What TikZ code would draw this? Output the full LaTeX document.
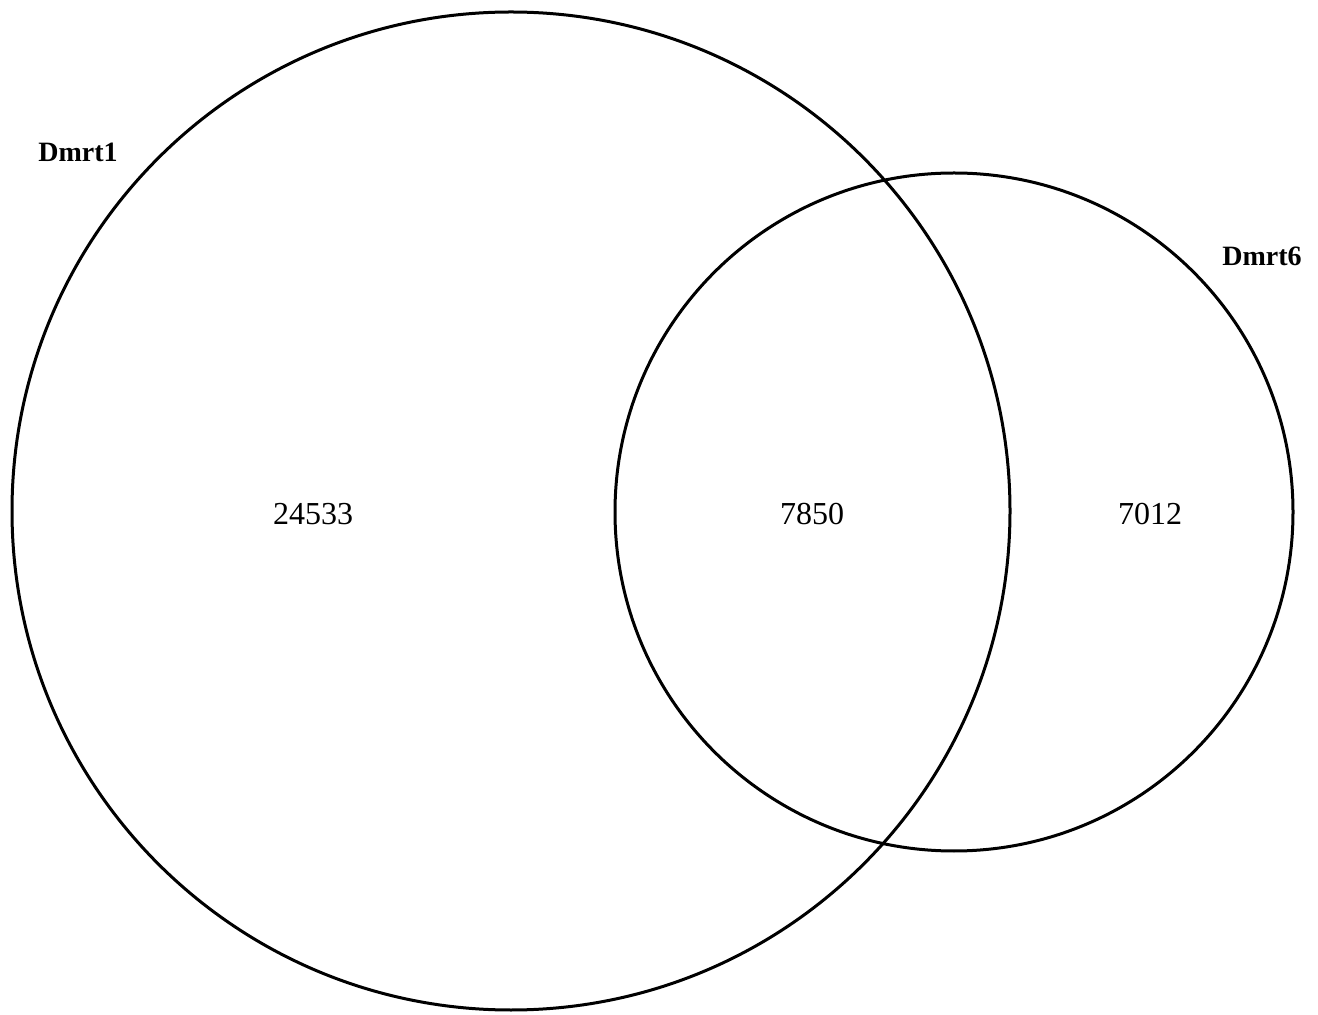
\documentclass[tikz,border=0pt]{standalone}
\usepackage{fontspec}
\setmainfont{Liberation Serif}
\begin{document}
\begin{tikzpicture}[x=0.5pt,y=-0.5pt,
  setcircle/.style={draw=black,line width=1.5pt},
  countlabel/.style={font=\fontsize{16}{18}\selectfont,inner sep=0pt},
  setlabel/.style={font=\fontsize{14}{16}\selectfont\bfseries,inner sep=0pt}]
\useasboundingbox (0,0) rectangle (1318,1015);
\draw[setcircle] (511,511) circle[radius=499];
\draw[setcircle] (954,512) circle[radius=339];
\node[setlabel] (l1) at (78,152) {Dmrt1};
\node[setlabel] (l2) at (1262,256) {Dmrt6};
\node[countlabel] (a) at (313,514) {24533};
\node[countlabel] (ab) at (812,514) {7850};
\node[countlabel] (b) at (1150,514) {7012};
\end{tikzpicture}
\end{document}
